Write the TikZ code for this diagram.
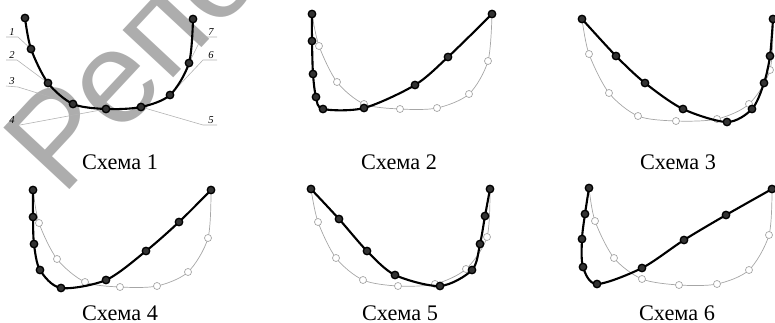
\documentclass[tikz,border=0pt]{standalone}
\usepackage{fontspec}
\setmainfont{Liberation Serif}
\newfontfamily\wmfont{Liberation Sans}
\usetikzlibrary{calc}

\begin{document}
\begin{tikzpicture}[x=0.03cm, y=-0.03cm,
    curve/.style={line width=1.8pt, line join=round},
    ref/.style={gray!70, line width=0.6pt},
    bdots/.style={mark=*, mark size=3.2pt, mark options={fill=black!80, draw=black, line width=1.1pt}},
    gdots/.style={mark=*, mark size=3pt, mark options={fill=white, draw=gray!70, line width=0.6pt}},
    leader/.style={gray!60, line width=0.5pt},
    lab/.style={font=\fontsize{9}{10}\selectfont\itshape, inner sep=1pt, anchor=south},
    caption/.style={font=\fontsize{19}{22}\selectfont, anchor=base}]
    \useasboundingbox (0,0) rectangle (775,322);

    % Watermark
    \begin{scope}
        \clip (0,0) rectangle (775,322);
        \node[font=\wmfont\fontsize{112}{112}\selectfont, text=black!32, rotate=47,
              anchor=base west, inner sep=0] (wm) at (62,198) {Репо};
    \end{scope}

    % Scheme 1: points
    \coordinate (a1) at (25,18);
    \coordinate (a2) at (31,49);
    \coordinate (a3) at (48,83);
    \coordinate (a4) at (73,104);
    \coordinate (a5) at (106,109);
    \coordinate (a6) at (141,107);
    \coordinate (a7) at (170,95);
    \coordinate (a8) at (189,63);
    \coordinate (a9) at (193,19);

    % Scheme 1: leaders and numbers
    \coordinate (t1) at (6,37);
    \coordinate (t2) at (6,60);
    \coordinate (t3) at (6,86);
    \coordinate (t4) at (6,125);
    \coordinate (t5) at (217,125);
    \coordinate (t6) at (217,60);
    \coordinate (t7) at (217,37);
    \draw[leader] (t1) -- ++(12,0) -- (a2);
    \draw[leader] (t2) -- ++(11,0) -- (a3);
    \draw[leader] (t3) -- ++(12,1) -- (a4);
    \draw[leader] (t4) -- ++(14,0) -- (a5);
    \draw[leader] (t5) -- ++(-14,0) -- (a6);
    \draw[leader] (t6) -- ++(-14,0) -- (a7);
    \draw[leader] (t7) -- ++(-15,0) -- (a8);
    \node[lab] (n1) at ($(t1)+(6,0)$) {1};
    \node[lab] (n2) at ($(t2)+(6,0)$) {2};
    \node[lab] (n3) at ($(t3)+(6,0)$) {3};
    \node[lab] (n4) at ($(t4)+(6,0)$) {4};
    \node[lab] (n5) at ($(t5)+(-6,0)$) {5};
    \node[lab] (n6) at ($(t6)+(-6,0)$) {6};
    \node[lab] (n7) at ($(t7)+(-6,0)$) {7};

    % Scheme 1: curve
    \draw[curve] plot[smooth, bdots] coordinates {(a1) (a2) (a3) (a4) (a5) (a6) (a7) (a8) (a9)};

    % Scheme 2
    \draw[ref] plot[smooth, gdots] coordinates {(312,14) (319,46) (337,82) (364,104) (400,109) (437,108) (469,94) (488,61) (492,14)};
    \draw[curve] plot[smooth, bdots] coordinates {(312,14) (312,41) (313,74) (316,97) (323,109) (364,108) (415,85) (448,57) (492,14)};

    % Scheme 3
    \draw[ref] plot[smooth, gdots] coordinates {(582,19) (589,54) (609,93) (638,116) (676,121) (717,119) (749,104) (770,70) (773,19)};
    \draw[curve] plot[smooth, bdots] coordinates {(582,19) (616,56) (645,83) (683,109) (727,122) (752,109) (764,83) (770,56) (773,19)};

    % Scheme 4
    \draw[ref] plot[smooth, gdots] coordinates {(33,190) (39,223) (57,259) (85,282) (120,287) (157,286) (188,272) (208,238) (211,190)};
    \draw[curve] plot[smooth, bdots] coordinates {(33,190) (33,217) (34,244) (40,270) (61,288) (106,280) (146,251) (179,222) (211,190)};

    % Scheme 5
    \draw[ref] plot[smooth, gdots] coordinates {(311,189) (318,222) (336,258) (363,280) (398,286) (435,284) (466,269) (487,237) (490,189)};
    \draw[curve] plot[smooth, bdots] coordinates {(311,189) (339,219) (367,251) (395,275) (440,286) (472,270) (480,244) (485,216) (490,189)};

    % Scheme 6
    \draw[ref] plot[smooth, gdots] coordinates {(589,188) (595,221) (614,258) (642,279) (679,285) (717,284) (749,270) (769,235) (772,189)};
    \draw[curve] plot[smooth, bdots] coordinates {(589,188) (585,214) (582,239) (583,267) (597,284) (642,268) (684,240) (726,215) (772,189)};

    % Captions
    \node[caption] (cap1) at (120,169) {Схема 1};
    \node[caption] (cap2) at (399,169) {Схема 2};
    \node[caption] (cap3) at (678,169) {Схема 3};
    \node[caption] (cap4) at (120,320) {Схема 4};
    \node[caption] (cap5) at (400,320) {Схема 5};
    \node[caption] (cap6) at (677,320) {Схема 6};
\end{tikzpicture}
\end{document}
